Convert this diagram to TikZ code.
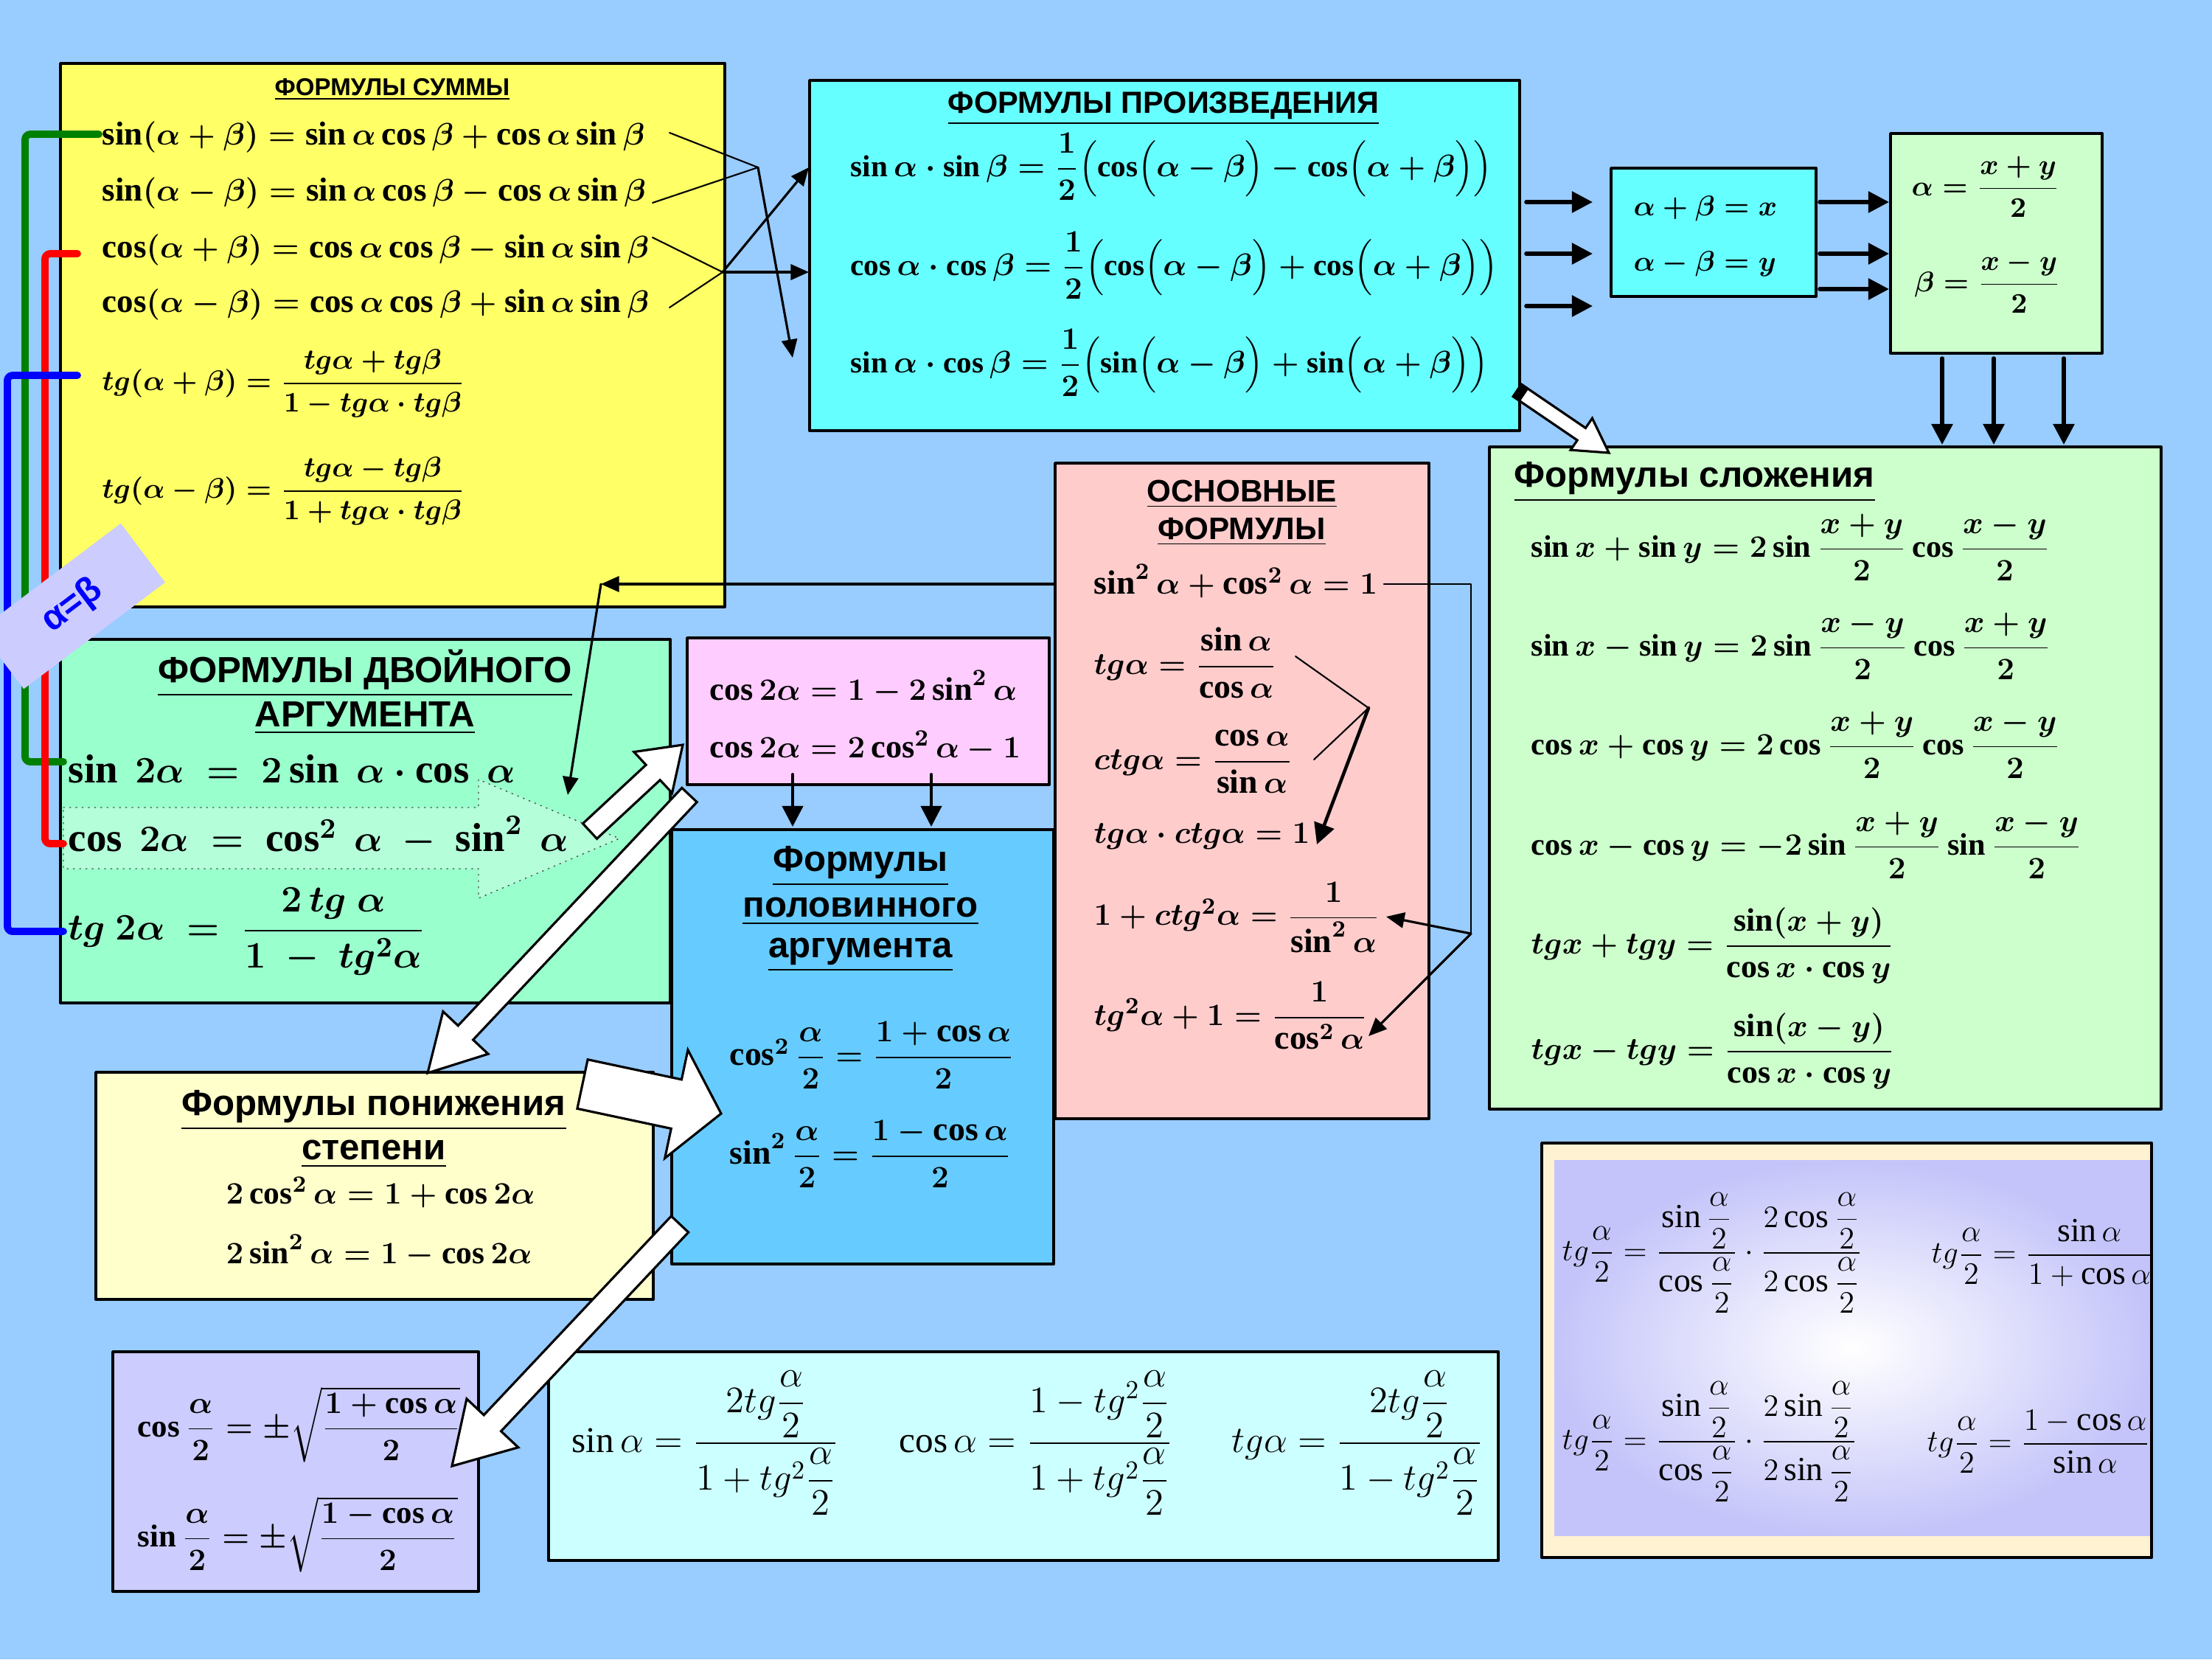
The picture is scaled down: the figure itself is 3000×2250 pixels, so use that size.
\documentclass[tikz,border=0pt]{standalone}
\usepackage{amsmath}
\usepackage{fontspec}
\setmainfont{Liberation Serif}
\setsansfont{Liberation Sans}
\usetikzlibrary{arrows.meta,calc}
\definecolor{Sky}{HTML}{99CCFF}
\definecolor{SumYellow}{HTML}{FFFF66}
\definecolor{ProdCyan}{HTML}{66FFFF}
\definecolor{PaleGreen}{HTML}{CCFFCC}
\definecolor{BasePink}{HTML}{FFCCCC}
\definecolor{DoubleGreen}{HTML}{99FFCC}
\definecolor{MintLight}{HTML}{B4FFDA}
\definecolor{LightMagenta}{HTML}{FFCCFF}
\definecolor{HalfBlue}{HTML}{66CCFF}
\definecolor{PowCream}{HTML}{FFFFCC}
\definecolor{Lavender}{HTML}{CCCCFF}
\definecolor{PaleCyan}{HTML}{CCFFFF}
\definecolor{FrameBeige}{HTML}{FFF2D2}
\definecolor{GradLav}{HTML}{C4C4FA}
\definecolor{BracketGreen}{HTML}{008000}
\tikzset{
  panel/.style={draw=black,line width=1.1pt},
  head/.style={font=\fontsize{#1}{#1}\selectfont\sffamily\bfseries,inner sep=0pt},
  fml/.style={inner sep=0pt,anchor=west,font=\fontsize{#1}{#1}\selectfont\boldmath},
  thin/.style={inner sep=0pt,anchor=west,font=\fontsize{#1}{#1}\selectfont},
  link/.style={line width=0.6pt},
  tiparrow/.style={line width=0.9pt,-{Triangle[length=7pt,width=6pt]}},
  bigarrow/.style={line width=1.6pt,-{Triangle[length=8pt,width=8pt]}},
  fatarr/.style={draw=black,fill=white,line width=0.9pt,line join=miter},
  bracket/.style={line width=2.8pt,rounded corners=2pt},
  eqlabel/.style={fill=Lavender,minimum width=2.4cm,minimum height=1.0cm,
    font=\fontsize{14}{14}\selectfont\sffamily\bfseries,text=blue},
}
% fat white arrow: from, to, shaft half width, head half width, head length
\newcommand{\fatarrow}[5]{%
  \coordinate (fa-base) at ($(#2)!#5!(#1)$);
  \draw[fatarr] ($(#1)!#3!90:(#2)$) -- ($(fa-base)!#3!90:(#2)$)
    -- ($(fa-base)!#4!90:(#2)$) -- (#2) -- ($(fa-base)!#4!-90:(#2)$)
    -- ($(fa-base)!#3!-90:(#2)$) -- ($(#1)!#3!-90:(#2)$) -- cycle;
}

\begin{document}
\begin{tikzpicture}[x=0.01cm,y=-0.01cm,line cap=round,line join=round]

% Background
\path[use as bounding box,fill=Sky] (0,0) rectangle (3000,2250);

% Panels
\draw[panel,fill=SumYellow] (82,86) rectangle (983,823);
\draw[panel,fill=ProdCyan] (1098,109) rectangle (2061,584);
\draw[panel,fill=ProdCyan] (2185,228) rectangle (2463,402);
\draw[panel,fill=PaleGreen] (2564,181) rectangle (2851,479);
\draw[panel,fill=PaleGreen] (2020,606) rectangle (2931,1504);
\draw[panel,fill=BasePink] (1431,628) rectangle (1938,1517);
\draw[panel,fill=DoubleGreen] (82,867) rectangle (909,1360);
\draw[panel,fill=LightMagenta] (932,865) rectangle (1423,1064);
\draw[panel,fill=HalfBlue] (911,1125) rectangle (1429,1714);
\draw[panel,fill=PowCream] (130,1454) rectangle (886,1762);
\draw[panel,fill=Lavender] (153,1833) rectangle (649,2158);
\draw[panel,fill=PaleCyan] (744,1833) rectangle (2032,2116);
\fill[FrameBeige] (2091,1550) rectangle (2918,2112);
\shade[inner color=white,outer color=GradLav] (2108,1573) rectangle (2918,2082);
\draw[panel] (2091,1550) rectangle (2918,2112);

% Hollow arrow behind cos 2a
\draw[dotted,gray!60!black,fill=MintLight] (86,1095) -- (649,1095) -- (649,1057)
  -- (840,1137) -- (649,1218) -- (649,1178) -- (86,1178) -- cycle;

% Sum formulas
\node[head=9.4] (sumT) at (532,121) {\underline{ФОРМУЛЫ СУММЫ}};
\node[fml=12.8] (sum1) at (138,186) {$\sin(\alpha+\beta)=\sin\alpha\cos\beta+\cos\alpha\sin\beta$};
\node[fml=12.8] (sum2) at (138,262) {$\sin(\alpha-\beta)=\sin\alpha\cos\beta-\cos\alpha\sin\beta$};
\node[fml=12.8] (sum3) at (138,339) {$\cos(\alpha+\beta)=\cos\alpha\cos\beta-\sin\alpha\sin\beta$};
\node[fml=12.8] (sum4) at (138,413) {$\cos(\alpha-\beta)=\cos\alpha\cos\beta+\sin\alpha\sin\beta$};
\node[fml=11.2] (sum5) at (138,520) {$tg(\alpha+\beta)=\dfrac{tg\alpha+tg\beta}{1-tg\alpha\cdot tg\beta}$};
\node[fml=11.2] (sum6) at (138,666) {$tg(\alpha-\beta)=\dfrac{tg\alpha-tg\beta}{1+tg\alpha\cdot tg\beta}$};

% Product formulas
\node[head=11.8] (prodT) at (1578,147) {\underline{ФОРМУЛЫ ПРОИЗВЕДЕНИЯ}};
\node[fml=11.7] (prod1) at (1153,226) {$\sin\alpha\cdot\sin\beta=\dfrac{1}{2}\Bigl(\cos\Bigl(\alpha-\beta\Bigr)-\cos\Bigl(\alpha+\beta\Bigr)\Bigr)$};
\node[fml=11.7] (prod2) at (1153,360) {$\cos\alpha\cdot\cos\beta=\dfrac{1}{2}\Bigl(\cos\Bigl(\alpha-\beta\Bigr)+\cos\Bigl(\alpha+\beta\Bigr)\Bigr)$};
\node[fml=11.7] (prod3) at (1153,492) {$\sin\alpha\cdot\cos\beta=\dfrac{1}{2}\Bigl(\sin\Bigl(\alpha-\beta\Bigr)+\sin\Bigl(\alpha+\beta\Bigr)\Bigr)$};

% Substitution
\node[fml=11.4] (subX) at (2215,283) {$\alpha+\beta=x$};
\node[fml=11.4] (subY) at (2215,358) {$\alpha-\beta=y$};
\node[fml=11.4] (solA) at (2592,253) {$\alpha=\dfrac{x+y}{2}$};
\node[fml=11.4] (solB) at (2596,383) {$\beta=\dfrac{x-y}{2}$};

% Sum to product
\node[head=14,anchor=west] (addT) at (2053,654) {\underline{Формулы сложения}};
\node[fml=12] (add1) at (2076,742) {$\sin x+\sin y=2\sin\dfrac{x+y}{2}\cos\dfrac{x-y}{2}$};
\node[fml=12] (add2) at (2076,876) {$\sin x-\sin y=2\sin\dfrac{x-y}{2}\cos\dfrac{x+y}{2}$};
\node[fml=12] (add3) at (2076,1010) {$\cos x+\cos y=2\cos\dfrac{x+y}{2}\cos\dfrac{x-y}{2}$};
\node[fml=12] (add4) at (2076,1146) {$\cos x-\cos y=-2\sin\dfrac{x+y}{2}\sin\dfrac{x-y}{2}$};
\node[fml=12.5] (add5) at (2076,1282) {$tgx+tgy=\dfrac{\sin(x+y)}{\cos x\cdot\cos y}$};
\node[fml=12.5] (add6) at (2076,1425) {$tgx-tgy=\dfrac{\sin(x-y)}{\cos x\cdot\cos y}$};

% Basic identities
\node[head=12] (baseT1) at (1684,670) {\underline{ОСНОВНЫЕ}};
\node[head=12] (baseT2) at (1684,721) {\underline{ФОРМУЛЫ}};
\node[fml=13] (base1) at (1483,788) {$\sin^2\alpha+\cos^2\alpha=1$};
\node[fml=13] (base2) at (1483,899) {$tg\alpha=\dfrac{\sin\alpha}{\cos\alpha}$};
\node[fml=13] (base3) at (1483,1033) {$ctg\alpha=\dfrac{\cos\alpha}{\sin\alpha}$};
\node[fml=13] (base4) at (1483,1134) {$tg\alpha\cdot ctg\alpha=1$};
\node[fml=13] (base5) at (1483,1244) {$1+ctg^2\alpha=\dfrac{1}{\sin^2\alpha}$};
\node[fml=13] (base6) at (1483,1377) {$tg^2\alpha+1=\dfrac{1}{\cos^2\alpha}$};

% Double argument
\node[head=14] (dblT1) at (495,913) {\underline{ФОРМУЛЫ ДВОЙНОГО}};
\node[head=14] (dblT2) at (495,974) {\underline{АРГУМЕНТА}};
\node[fml=15.6] (dbl1) at (92,1043) {$\sin\ 2\alpha\ =\ 2\sin\ \alpha\cdot\cos\ \alpha$};
\node[fml=15.6] (dbl2) at (92,1134) {$\cos\ 2\alpha\ =\ \cos^{2}\ \alpha\ -\ \sin^{2}\ \alpha$};
\node[fml=15.6] (dbl3) at (92,1263) {$tg\ 2\alpha\ =\ \dfrac{2\,tg\ \alpha}{1\ -\ tg^{2}\alpha}$};
\node[fml=12.6] (cosA) at (962,932) {$\cos2\alpha=1-2\sin^2\alpha$};
\node[fml=12.6] (cosB) at (962,1012) {$\cos2\alpha=2\cos^2\alpha-1$};

% Half argument
\node[head=14] (halfT1) at (1167,1175) {\underline{Формулы}};
\node[head=14] (halfT2) at (1167,1236) {\underline{половинного}};
\node[head=14] (halfT3) at (1167,1295) {\underline{аргумента}};
\node[fml=13] (half1) at (989,1431) {$\cos^2\dfrac{\alpha}{2}=\dfrac{1+\cos\alpha}{2}$};
\node[fml=13] (half2) at (989,1565) {$\sin^2\dfrac{\alpha}{2}=\dfrac{1-\cos\alpha}{2}$};

% Power reduction
\node[head=14] (powT1) at (507,1506) {\underline{Формулы понижения}};
\node[head=14] (powT2) at (507,1565) {\underline{степени}};
\node[fml=12.4] (pow1) at (306,1617) {$2\cos^2\alpha=1+\cos2\alpha$};
\node[fml=12.4] (pow2) at (306,1697) {$2\sin^2\alpha=1-\cos2\alpha$};

% Roots
\node[fml=12.2] (root1) at (186,1932) {$\cos\dfrac{\alpha}{2}=\pm\sqrt{\dfrac{1+\cos\alpha}{2}}$};
\node[fml=12.2] (root2) at (186,2081) {$\sin\dfrac{\alpha}{2}=\pm\sqrt{\dfrac{1-\cos\alpha}{2}}$};

% Universal substitution
\node[thin=14] (uni1) at (775,1957) {$\sin\alpha=\dfrac{2tg\dfrac{\alpha}{2}}{1+tg^2\dfrac{\alpha}{2}}$};
\node[thin=14] (uni2) at (1219,1957) {$\cos\alpha=\dfrac{1-tg^2\dfrac{\alpha}{2}}{1+tg^2\dfrac{\alpha}{2}}$};
\node[thin=14] (uni3) at (1670,1957) {$tg\alpha=\dfrac{2tg\dfrac{\alpha}{2}}{1-tg^2\dfrac{\alpha}{2}}$};

% Tangent of half angle
\node[thin=13] (tgh1) at (2118,1699) {$tg\dfrac{\alpha}{2}=\dfrac{\sin\dfrac{\alpha}{2}}{\cos\dfrac{\alpha}{2}}\cdot\dfrac{2\cos\dfrac{\alpha}{2}}{2\cos\dfrac{\alpha}{2}}$};
\node[thin=13] (tgh2) at (2619,1699) {$tg\dfrac{\alpha}{2}=\dfrac{\sin\alpha}{1+\cos\alpha}$};
\node[thin=13] (tgh3) at (2118,1955) {$tg\dfrac{\alpha}{2}=\dfrac{\sin\dfrac{\alpha}{2}}{\cos\dfrac{\alpha}{2}}\cdot\dfrac{2\sin\dfrac{\alpha}{2}}{2\sin\dfrac{\alpha}{2}}$};
\node[thin=13] (tgh4) at (2613,1955) {$tg\dfrac{\alpha}{2}=\dfrac{1-\cos\alpha}{\sin\alpha}$};

% Colour brackets
\draw[bracket,BracketGreen] (134,182) -- (34,182) -- (34,1033) -- (86,1033);
\draw[bracket,red] (105,344) -- (61,344) -- (61,1144) -- (86,1144);
\draw[bracket,blue] (105,509) -- (10,509) -- (10,1263) -- (86,1263);
\node[eqlabel,rotate=37] (eqAB) at (98,822) {α=β};

% Connectors: sum -> product
\coordinate (s1) at (908,180);
\coordinate (s2) at (885,275);
\coordinate (s3) at (885,322);
\coordinate (s4) at (908,417);
\coordinate (j1) at (1028,227);
\coordinate (j2) at (980,369);
\coordinate (p1) at (1097,227);
\coordinate (p2) at (1097,369);
\coordinate (p3) at (1075,485);
\draw[link] (s1) -- (j1) -- (s2);
\draw[link] (s3) -- (j2) -- (s4);
\draw[tiparrow] (j1) -- (p3);
\draw[tiparrow] (j2) -- (p1);
\draw[tiparrow] (j2) -- (p2);

% product -> substitution -> solution
\foreach \y [count=\i] in {274,344,415}{
  \coordinate (ra\i) at (2070,\y);
  \coordinate (rb\i) at (2160,\y);
  \draw[bigarrow] (ra\i) -- (rb\i);
}
\foreach \y [count=\i] in {274,344,392}{
  \coordinate (rc\i) at (2468,\y);
  \coordinate (rd\i) at (2562,\y);
  \draw[bigarrow] (rc\i) -- (rd\i);
}
\foreach \x [count=\i] in {2634,2704,2799}{
  \coordinate (da\i) at (\x,486);
  \coordinate (db\i) at (\x,603);
  \draw[bigarrow] (da\i) -- (db\i);
}

% basic identities
\coordinate (t1) at (1757,890);
\coordinate (cj) at (1856,960);
\coordinate (t2) at (1782,1030);
\coordinate (tc) at (1786,1145);
\draw[link] (t1) -- (cj) -- (t2);
\draw[bigarrow,line width=1.3pt] (cj) -- (tc);
\coordinate (i1) at (1877,792);
\coordinate (i2) at (1995,792);
\coordinate (i3) at (1995,1266);
\coordinate (q1) at (1880,1243);
\coordinate (q2) at (1856,1405);
\draw[link,line width=0.8pt] (i1) -- (i2) -- (i3);
\draw[tiparrow] (i3) -- (q1);
\draw[tiparrow] (i3) -- (q2);
\coordinate (l1) at (1431,792);
\coordinate (l2) at (815,792);
\coordinate (l3) at (770,1078);
\draw[tiparrow] (l1) -- (l2);
\draw[tiparrow] (l2) -- (l3);

% cos 2a -> half argument
\foreach \x [count=\i] in {1075,1263}{
  \coordinate (ha\i) at (\x,1050);
  \coordinate (hb\i) at (\x,1121);
  \draw[bigarrow,line width=1.1pt] (ha\i) -- (hb\i);
}

% White block arrows
\coordinate (wA1) at (800,1127);
\coordinate (wA2) at (926,1010);
\fatarrow{wA1}{wA2}{1.4mm}{3.8mm}{5.5mm}
\coordinate (wB1) at (935,1078);
\coordinate (wB2) at (580,1455);
\fatarrow{wB1}{wB2}{1.4mm}{4.2mm}{7.5mm}
\coordinate (wC1) at (790,1470);
\coordinate (wC2) at (978,1510);
\fatarrow{wC1}{wC2}{3.4mm}{7.5mm}{6.2mm}
\coordinate (wD1) at (922,1660);
\coordinate (wD2) at (613,1988);
\fatarrow{wD1}{wD2}{1.6mm}{4.8mm}{8mm}
\coordinate (wE1) at (2066,535);
\coordinate (wE2) at (2182,614);
\fatarrow{wE1}{wE2}{1.0mm}{2.6mm}{4.5mm}
\coordinate (eb1) at ($(wE1)!-0.25mm!(wE2)$);
\coordinate (eb2) at ($(wE1)!-0.55mm!(wE2)$);
\coordinate (eb3) at ($(wE1)!-0.8mm!(wE2)$);
\coordinate (eb4) at ($(wE1)!-1.0mm!(wE2)$);
\draw[fatarr] ($(eb1)!1mm!90:(wE2)$) -- ($(eb1)!1mm!-90:(wE2)$) -- ($(eb2)!1mm!-90:(wE2)$) -- ($(eb2)!1mm!90:(wE2)$) -- cycle;
\draw[fatarr] ($(eb3)!1mm!90:(wE2)$) -- ($(eb3)!1mm!-90:(wE2)$) -- ($(eb4)!1mm!-90:(wE2)$) -- ($(eb4)!1mm!90:(wE2)$) -- cycle;

\end{tikzpicture}
\end{document}
